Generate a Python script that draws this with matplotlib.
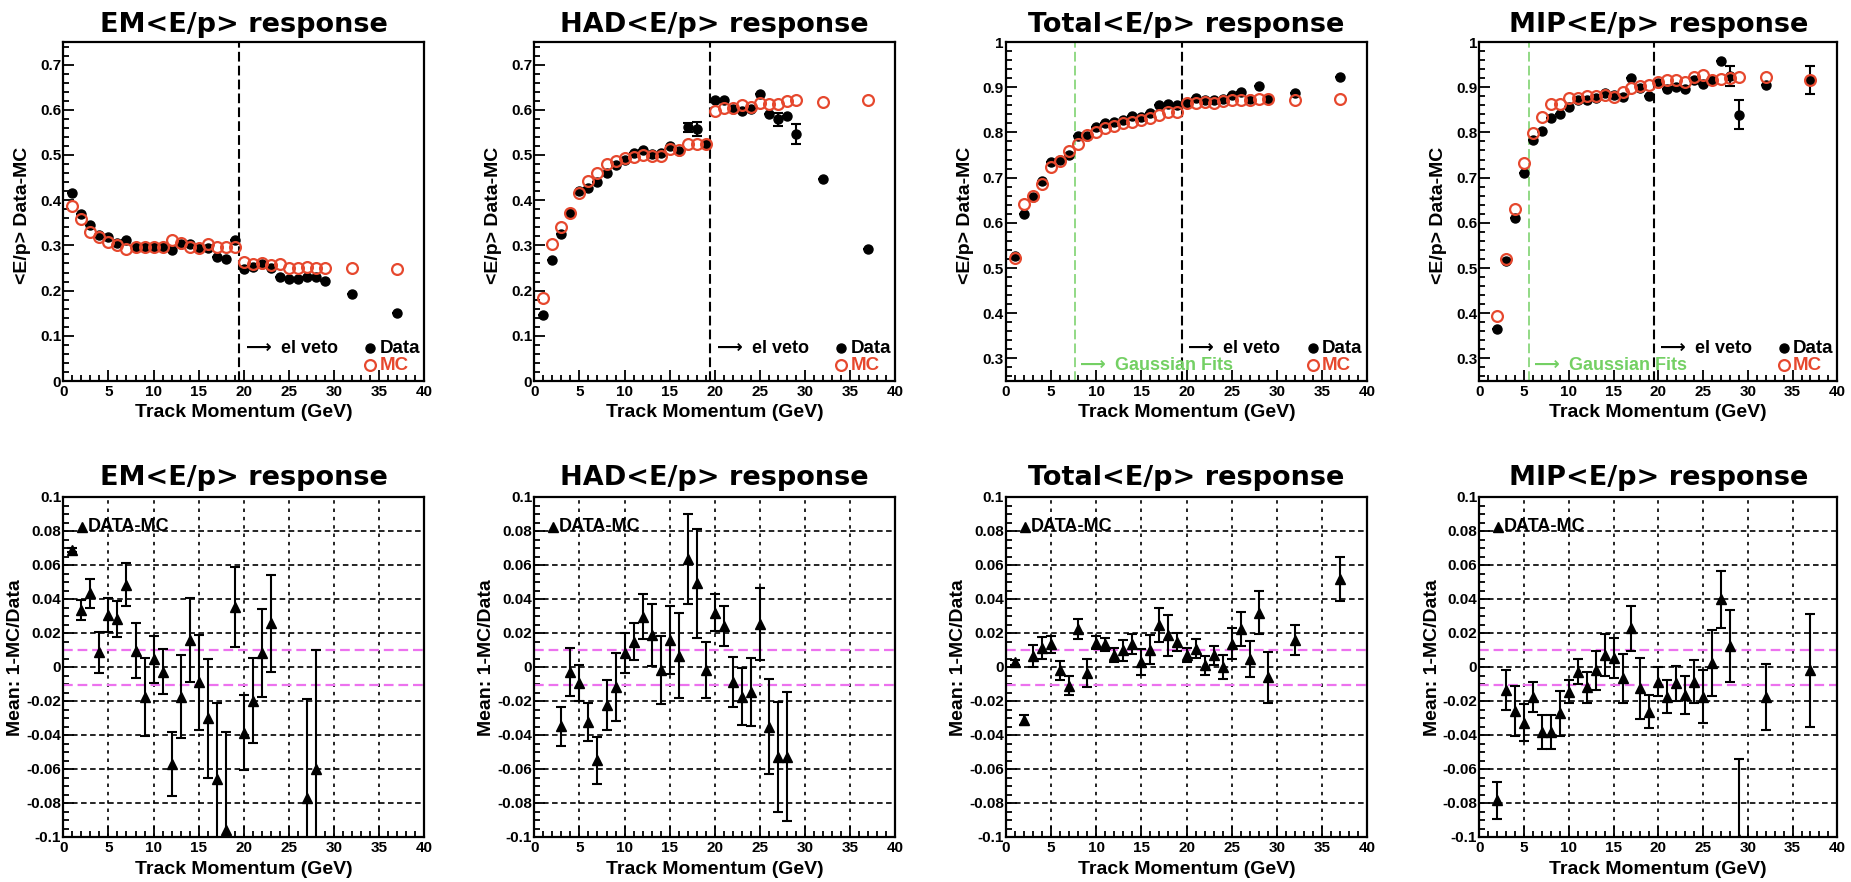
import matplotlib
matplotlib.use("Agg")
import matplotlib.pyplot as plt
from matplotlib.ticker import MultipleLocator, FuncFormatter

plt.rcParams['font.family'] = ['Liberation Sans', 'DejaVu Sans']
plt.rcParams['font.weight'] = 'bold'
plt.rcParams['lines.scale_dashes'] = False
plt.rcParams['mathtext.fontset'] = 'dejavusans'

# ---------------- momentum bins (GeV) ----------------
p_all = [1, 2, 3, 4, 5, 6, 7, 8, 9, 10, 11, 12, 13, 14, 15, 16, 17, 18, 19, 20,
         21, 22, 23, 24, 25, 26, 27, 28, 29, 32, 37]
p_mip = [2, 3, 4, 5, 6, 7, 8, 9, 10, 11, 12, 13, 14, 15, 16, 17, 18, 19, 20,
         21, 22, 23, 24, 25, 26, 27, 28, 29, 32, 37]

# ---------------- <E/p> response, data and MC ----------------
em_data = [0.415, 0.369, 0.346, 0.322, 0.318, 0.305, 0.311, 0.297, 0.296, 0.297,
           0.297, 0.289, 0.302, 0.302, 0.295, 0.295, 0.275, 0.270, 0.311, 0.248,
           0.253, 0.258, 0.250, 0.231, 0.226, 0.226, 0.230, 0.230, 0.222, 0.192, 0.150]
em_mc = [0.388, 0.358, 0.329, 0.319, 0.307, 0.300, 0.292, 0.297, 0.297, 0.297,
         0.297, 0.311, 0.305, 0.297, 0.295, 0.302, 0.297, 0.297, 0.297, 0.263,
         0.259, 0.260, 0.256, 0.258, 0.250, 0.250, 0.252, 0.251, 0.250, 0.250, 0.248]
em_data_err = [0, 0, 0, 0, 0, 0, 0, 0, 0, 0, 0, 0, 0, 0, 0, 0, 0, 0, 0, 0,
               0, 0, 0, 0, 0, 0, 0, 0, 0, 0, 0]

had_data = [0.146, 0.267, 0.326, 0.372, 0.420, 0.427, 0.440, 0.461, 0.478, 0.489,
            0.504, 0.511, 0.502, 0.504, 0.519, 0.508, 0.561, 0.557, 0.525, 0.621,
            0.621, 0.601, 0.597, 0.601, 0.636, 0.590, 0.579, 0.586, 0.546, 0.447, 0.292]
had_mc = [0.184, 0.303, 0.340, 0.372, 0.417, 0.443, 0.461, 0.480, 0.487, 0.494,
          0.496, 0.500, 0.497, 0.498, 0.513, 0.511, 0.524, 0.525, 0.525, 0.597,
          0.605, 0.603, 0.611, 0.606, 0.616, 0.612, 0.612, 0.619, 0.622, 0.617, 0.622]
had_data_err = [0, 0, 0, 0, 0, 0, 0, 0, 0, 0, 0, 0, 0, 0, 0, 0, 0.010, 0.016, 0, 0,
                0, 0, 0, 0, 0, 0, 0.014, 0, 0.022, 0, 0]

tot_data = [0.527, 0.620, 0.658, 0.692, 0.734, 0.740, 0.751, 0.791, 0.791, 0.813,
            0.820, 0.822, 0.828, 0.837, 0.834, 0.843, 0.861, 0.863, 0.861, 0.866,
            0.876, 0.871, 0.871, 0.874, 0.883, 0.890, 0.874, 0.903, 0.874, 0.887, 0.923]
tot_mc = [0.523, 0.641, 0.659, 0.686, 0.724, 0.736, 0.758, 0.775, 0.795, 0.800,
          0.810, 0.815, 0.821, 0.824, 0.827, 0.832, 0.839, 0.846, 0.846, 0.865,
          0.866, 0.868, 0.866, 0.870, 0.872, 0.872, 0.872, 0.874, 0.874, 0.872, 0.874]
tot_data_err = [0, 0, 0, 0, 0, 0, 0, 0, 0, 0, 0, 0, 0, 0, 0, 0, 0, 0, 0, 0,
                0, 0, 0, 0, 0, 0, 0, 0, 0, 0, 0]

mip_data = [0.364, 0.516, 0.611, 0.711, 0.783, 0.802, 0.832, 0.841, 0.857, 0.872,
            0.871, 0.876, 0.888, 0.883, 0.879, 0.920, 0.898, 0.881, 0.909, 0.896,
            0.900, 0.896, 0.915, 0.907, 0.915, 0.957, 0.925, 0.839, 0.905, 0.916]
mip_mc = [0.393, 0.520, 0.631, 0.733, 0.799, 0.833, 0.863, 0.863, 0.876, 0.876,
          0.881, 0.881, 0.883, 0.879, 0.890, 0.898, 0.903, 0.905, 0.912, 0.915,
          0.916, 0.912, 0.923, 0.927, 0.916, 0.918, 0.920, 0.922, 0.922, 0.916]
mip_data_err = [0, 0, 0, 0, 0, 0, 0, 0, 0, 0, 0, 0, 0, 0, 0, 0, 0, 0, 0, 0,
                0, 0, 0, 0, 0, 0, 0.022, 0.032, 0, 0.031]

# ---------------- 1 - MC/Data ----------------
em_ratio_p = [1, 2, 3, 4, 5, 6, 7, 8, 9, 10, 11, 12, 13, 14, 15, 16, 17, 18, 19, 20,
              21, 22, 23, 27, 28]
em_ratio = [0.0688, 0.0335, 0.0433, 0.0086, 0.0306, 0.0282, 0.0484, 0.0096, -0.0175, 0.0045,
            -0.0027, -0.057, -0.0175, 0.0159, -0.009, -0.030, -0.066, -0.096, 0.0355, -0.0386,
            -0.0198, 0.0084, 0.0257, -0.077, -0.060]
em_ratio_err = [0.001, 0.0057, 0.0087, 0.012, 0.010, 0.0107, 0.0126, 0.016, 0.023, 0.014,
                0.013, 0.019, 0.0245, 0.0245, 0.028, 0.035, 0.045, 0.058, 0.0235, 0.022,
                0.025, 0.026, 0.0286, 0.058, 0.070]

had_ratio_p = [3, 4, 5, 6, 7, 8, 9, 10, 11, 12, 13, 14, 15, 16, 17, 18, 19, 20,
               21, 22, 23, 24, 25, 26, 27, 28]
had_ratio = [-0.0349, -0.0029, -0.0094, -0.0324, -0.0549, -0.0224, -0.012, 0.008, 0.0149, 0.0296,
             0.0188, -0.0018, 0.0159, 0.0065, 0.0633, 0.0492, -0.0018, 0.0319, 0.0241, -0.0086,
             -0.0175, -0.0145, 0.0253, -0.0351, -0.0527, -0.0527]
had_ratio_err = [0.0113, 0.0143, 0.0104, 0.011, 0.0137, 0.0147, 0.020, 0.0118, 0.011, 0.0131,
                 0.018, 0.020, 0.0198, 0.025, 0.0265, 0.032, 0.0167, 0.011, 0.0118, 0.0147,
                 0.0167, 0.020, 0.0209, 0.028, 0.0324, 0.038]

tot_ratio_p = p_all
tot_ratio = [0.0029, -0.031, 0.0065, 0.0114, 0.0133, -0.002, -0.011, 0.0225, -0.0035, 0.0143,
             0.0133, 0.0069, 0.0098, 0.0137, 0.003, 0.0102, 0.0245, 0.0186, 0.0147, 0.0069,
             0.0108, 0.001, 0.0069, 0.0, 0.0137, 0.0225, 0.0049, 0.032, -0.0059, 0.016, 0.052]
tot_ratio_err = [0.0015, 0.003, 0.0065, 0.0065, 0.005, 0.0055, 0.0055, 0.006, 0.008, 0.004,
                 0.004, 0.004, 0.006, 0.006, 0.0075, 0.0085, 0.010, 0.012, 0.0055, 0.004,
                 0.0055, 0.0055, 0.0055, 0.007, 0.009, 0.010, 0.0105, 0.0125, 0.015, 0.009, 0.013]

mip_ratio_p = p_mip
mip_ratio = [-0.0784, -0.0135, -0.0257, -0.0327, -0.0175, -0.038, -0.038, -0.0273, -0.0145, -0.0027,
             -0.012, -0.0018, 0.0071, 0.0051, -0.0067, 0.0227, -0.0125, -0.0263, -0.0086, -0.0175,
             -0.0096, -0.0165, -0.0086, -0.0175, 0.0022, 0.0398, 0.0124, -0.101, -0.0176, -0.002]
mip_ratio_err = [0.0108, 0.012, 0.0147, 0.011, 0.0088, 0.010, 0.010, 0.0132, 0.0069, 0.0073,
                 0.009, 0.0115, 0.0125, 0.0118, 0.0143, 0.0133, 0.018, 0.0098, 0.0085, 0.0098,
                 0.0102, 0.011, 0.0127, 0.0157, 0.0193, 0.0169, 0.0212, 0.047, 0.0196, 0.033]

titles = ["EM<E/p> response", "HAD<E/p> response", "Total<E/p> response", "MIP<E/p> response"]
veto_cut = 19.5
gauss_cut = [None, None, 7.6, 5.5]
top_ylim = [(0, 0.75), (0, 0.75), (0.25, 1.0), (0.25, 1.0)]

RED = '#e6482e'
GREEN = '#74d064'
MAGENTA = '#ec72ee'
ARROW = r'$\longrightarrow$'

top_sets = [(p_all, em_data, em_data_err, em_mc),
            (p_all, had_data, had_data_err, had_mc),
            (p_all, tot_data, tot_data_err, tot_mc),
            (p_mip, mip_data, mip_data_err, mip_mc)]
bot_sets = [(em_ratio_p, em_ratio, em_ratio_err),
            (had_ratio_p, had_ratio, had_ratio_err),
            (tot_ratio_p, tot_ratio, tot_ratio_err),
            (mip_ratio_p, mip_ratio, mip_ratio_err)]

W, H = 1851, 882
fig = plt.figure(figsize=(W / 100, H / 100), dpi=100)

lefts = [63.3, 534.3, 1006.0, 1479.3]
widths = [361, 361, 361, 358]
top_box = (42, 381)
bot_box = (497, 837)
title_font = dict(fontsize=19.5, fontweight='bold', family=['DejaVu Sans'])


def gfmt(v, pos):
    v = round(v, 6)
    if abs(v) < 1e-9:
        return '0'
    return '%g' % v


def style_axes(ax, ymajor, yminor):
    ax.xaxis.set_major_locator(MultipleLocator(5))
    ax.xaxis.set_minor_locator(MultipleLocator(1))
    ax.yaxis.set_major_locator(MultipleLocator(ymajor))
    ax.yaxis.set_minor_locator(MultipleLocator(yminor))
    ax.xaxis.set_major_formatter(FuncFormatter(gfmt))
    ax.yaxis.set_major_formatter(FuncFormatter(gfmt))
    ax.tick_params(which='both', direction='in', top=False, right=False,
                   labelsize=11, width=1.3, colors='black')
    ax.tick_params(which='major', length=8)
    ax.tick_params(which='minor', length=4)
    ax.tick_params(axis='y', pad=1.5)
    ax.tick_params(axis='x', pad=3)
    for lab in ax.get_xticklabels() + ax.get_yticklabels():
        lab.set_fontweight('bold')
    for s in ax.spines.values():
        s.set_linewidth(1.6)
        s.set_color('black')


for i in range(4):
    # ---------- top row: response ----------
    l = lefts[i] / W
    w = widths[i] / W
    ax = fig.add_axes([l, (H - top_box[1]) / H, w, (top_box[1] - top_box[0]) / H])
    p, d, de, mc = top_sets[i]
    ax.errorbar(p, d, yerr=de, fmt='o', color='black', ms=6.5, elinewidth=1.5,
                capsize=3.5, capthick=1.5, zorder=3)
    ax.plot(p, mc, 'o', mfc='none', mec=RED, mew=1.6, ms=7.8, zorder=4)
    ax.set_xlim(0, 40)
    ax.set_ylim(*top_ylim[i])
    style_axes(ax, 0.1, 0.02)
    ax.axvline(veto_cut, color='black', lw=1.5, dashes=(7, 3), zorder=2)
    tr = ax.get_xaxis_transform()
    ax.text(veto_cut + 0.25, 0.097, ARROW + ' el veto', transform=tr, fontsize=13,
            ha='left', va='center', fontweight='bold')
    if gauss_cut[i] is not None:
        ax.axvline(gauss_cut[i], color=GREEN, lw=1.1, dashes=(7, 3), zorder=2)
        ax.text(gauss_cut[i] + 0.2, 0.046, ARROW + ' Gaussian Fits', transform=tr,
                fontsize=13, ha='left', va='center', color=GREEN, fontweight='bold')
    ax.plot([0.85], [0.097], 'o', color='black', ms=6.5, transform=ax.transAxes, clip_on=False)
    ax.plot([0.85], [0.046], 'o', mfc='none', mec=RED, mew=1.6, ms=7.8,
            transform=ax.transAxes, clip_on=False)
    ax.text(0.876, 0.097, 'Data', transform=ax.transAxes, fontsize=13.5,
            ha='left', va='center', fontweight='bold')
    ax.text(0.876, 0.046, 'MC', transform=ax.transAxes, fontsize=13.5, color=RED,
            ha='left', va='center', fontweight='bold')
    ax.set_title(titles[i], pad=7.5, **title_font)
    ax.set_xlabel('Track Momentum (GeV)', fontsize=14, fontweight='bold')
    ax.set_ylabel('<E/p> Data-MC', fontsize=14, fontweight='bold')
    ax.xaxis.set_label_coords(0.5, -0.068)
    ax.yaxis.set_label_coords(-0.089, 0.49)

    # ---------- bottom row: 1 - MC/Data ----------
    axb = fig.add_axes([l, (H - bot_box[1]) / H, w, (bot_box[1] - bot_box[0]) / H])
    rp, rv, re = bot_sets[i]
    axb.set_xlim(0, 40)
    axb.set_ylim(-0.1, 0.1)
    style_axes(axb, 0.02, 0.005)
    for xv in range(5, 40, 5):
        axb.axvline(xv, color='black', lw=1.2, dashes=(2.5, 3.5), zorder=1)
    for k in range(-4, 5):
        yv = k * 0.02
        axb.axhline(yv, color='black', lw=1.2, dashes=(4, 2.5), zorder=1)
    axb.axhline(0.01, color=MAGENTA, lw=1.6, dashes=(7, 3.5), zorder=2)
    axb.axhline(-0.0105, color=MAGENTA, lw=1.6, dashes=(7, 3.5), zorder=2)
    axb.errorbar(rp, rv, yerr=re, fmt='^', color='black', ms=6.5, elinewidth=1.5,
                 capsize=3.5, capthick=1.5, zorder=3)
    axb.plot([0.052], [0.912], '^', color='black', ms=6.5, transform=axb.transAxes)
    axb.text(0.068, 0.912, 'DATA-MC', transform=axb.transAxes, fontsize=13,
             ha='left', va='center', fontweight='bold')
    axb.set_title(titles[i], pad=8.5, **title_font)
    axb.set_xlabel('Track Momentum (GeV)', fontsize=14, fontweight='bold')
    axb.set_ylabel('Mean: 1-MC/Data', fontsize=14, fontweight='bold')
    axb.xaxis.set_label_coords(0.5, -0.072)
    axb.yaxis.set_label_coords(-0.108, 0.527)

fig.savefig('out.png', dpi=100)
